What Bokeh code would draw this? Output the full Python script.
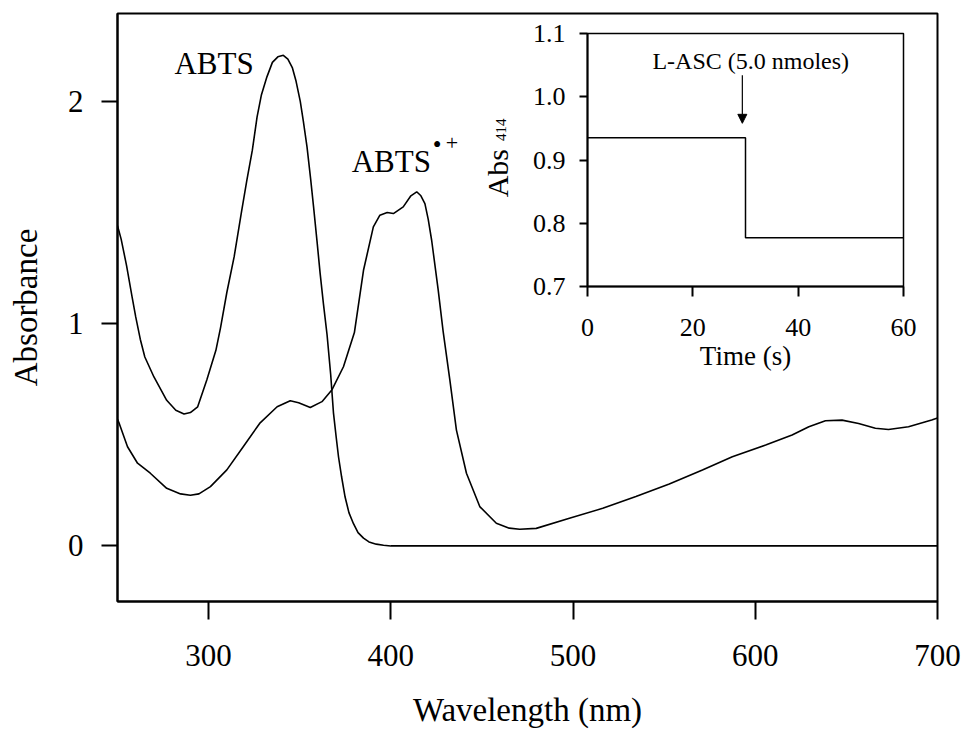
from math import pi

from bokeh.embed import file_html
from bokeh.layouts import column
from bokeh.models import (Arrow, FixedTicker, Label, NormalHead,
                          PrintfTickFormatter, Range1d)
from bokeh.plotting import figure
from bokeh.resources import INLINE

FONT = "Liberation Serif"

# ---- absorption spectra -------------------------------------------------
abts_nm = [250, 252, 255, 258, 260, 262.5, 265, 270, 277, 282, 286.5, 290,
           294, 299, 304, 306.5, 310, 314, 318, 321, 324, 326.6, 329, 332,
           335, 338, 341, 343.5, 346, 348, 350.3, 352, 354, 356, 357.6,
           359.5, 361.2, 363, 365, 367, 368.5, 370, 371.3, 373, 374.9, 377,
           379.5, 382, 385, 388, 392, 396, 400, 450, 500, 550, 600, 650, 700]
abts_abs = [1.44, 1.38, 1.26, 1.12, 1.03, 0.93, 0.85, 0.76, 0.655, 0.61,
            0.593, 0.60, 0.626, 0.746, 0.88, 0.98, 1.14, 1.30, 1.50, 1.645,
            1.78, 1.93, 2.03, 2.11, 2.175, 2.20, 2.207, 2.19, 2.15, 2.09,
            2.00, 1.91, 1.795, 1.65, 1.525, 1.37, 1.226, 1.09, 0.95, 0.77,
            0.60, 0.49, 0.40, 0.31, 0.22, 0.15, 0.10, 0.06, 0.035, 0.018,
            0.008, 0.003, 0.0, 0.0, 0.0, 0.0, 0.0, 0.0, 0.0]

radical_nm = [250, 251, 255.5, 261, 268, 277, 284.6, 290, 294.7, 301, 310,
              319, 328, 337.6, 344.8, 349.4, 355.8, 362.2, 367.6, 374, 380,
              385, 390.4, 394, 398, 401.4, 406.8, 411, 414.2, 416.5, 418.7,
              420.5, 422.4, 426, 428.7, 432.4, 436, 441.5, 448.8, 457.9, 465,
              470.7, 479.8, 498, 516.3, 534.5, 552.8, 571, 587.4, 605.7,
              620.2, 629.4, 638.5, 647.6, 656.7, 665.9, 673.1, 684.1, 696.8,
              700]
radical_abs = [0.57, 0.55, 0.446, 0.372, 0.327, 0.259, 0.234, 0.228, 0.234,
               0.267, 0.342, 0.446, 0.551, 0.626, 0.653, 0.644, 0.623, 0.649,
               0.701, 0.806, 0.96, 1.24, 1.435, 1.488, 1.50, 1.495, 1.525,
               1.575, 1.593, 1.575, 1.540, 1.47, 1.375, 1.151, 0.965, 0.746,
               0.521, 0.327, 0.177, 0.102, 0.08, 0.075, 0.079, 0.124, 0.169,
               0.222, 0.279, 0.342, 0.401, 0.454, 0.499, 0.536, 0.563, 0.566,
               0.551, 0.529, 0.524, 0.536, 0.566, 0.575]

wavelength_ticks = [300, 400, 500, 600, 700]
absorbance_ticks = [0, 1, 2]

# ---- inset: absorbance at 414 nm vs time --------------------------------
time_s = [0, 30, 60]
abs414 = [0.935, 0.777, 0.777]
time_ticks = [0, 20, 40, 60]
abs414_ticks = [0.7, 0.8, 0.9, 1.0, 1.1]
asc_time = 29.4


def style_axis(axis, tick_out, label_size, standoff):
    axis.major_tick_in = 0
    axis.major_tick_out = tick_out
    axis.minor_tick_in = 0
    axis.minor_tick_out = 0
    axis.major_tick_line_color = "black"
    axis.major_tick_line_width = 2
    axis.axis_line_color = "black"
    axis.axis_line_width = 2
    axis.major_label_text_font = FONT
    axis.major_label_text_font_size = label_size
    axis.major_label_text_color = "black"
    axis.major_label_standoff = standoff


def text_label(fig, x, y, text, size, align="center", angle=0.0):
    fig.add_layout(Label(x=x, y=y, text=text, angle=angle, text_align=align,
                         text_baseline="middle", text_font=FONT,
                         text_font_size=size, text_color="black"))


# ---- main spectrum plot -------------------------------------------------
p = figure(width=965, height=731, x_range=Range1d(250, 700),
           y_range=Range1d(-0.25, 2.395), output_backend="svg",
           toolbar_location=None, min_border_left=117, min_border_right=28,
           min_border_top=13, min_border_bottom=130)
p.grid.visible = False
p.outline_line_color = "black"
p.outline_line_width = 2

p.line(abts_nm, abts_abs, line_color="black", line_width=1.6)
p.line(radical_nm, radical_abs, line_color="black", line_width=1.6)

p.xaxis.ticker = FixedTicker(ticks=wavelength_ticks)
p.yaxis.ticker = FixedTicker(ticks=absorbance_ticks)
style_axis(p.xaxis[0], 18, "31px", 25)
style_axis(p.yaxis[0], 16, "31px", 18)
p.xaxis.axis_label = "Wavelength (nm)"
p.yaxis.axis_label = "Absorbance"
for ax in (p.xaxis[0], p.yaxis[0]):
    ax.axis_label_text_font = FONT
    ax.axis_label_text_font_size = "33px"
    ax.axis_label_text_font_style = "normal"
    ax.axis_label_text_color = "black"
p.xaxis.axis_label_standoff = 23
p.yaxis.axis_label_standoff = 21

text_label(p, 303.0, 2.171, "ABTS", "31px")
text_label(p, 378.5, 1.728, "ABTS", "31px", align="left")
text_label(p, 425.4, 1.806, "•", "25px")
text_label(p, 433.6, 1.811, "+", "22px")

# inset y-axis title (Abs with subscript 414), drawn on the canvas below
text_label(p, 458.3, 1.568, "Abs", "30px", align="left", angle=pi / 2)
text_label(p, 460.6, 1.822, "414", "15px", align="left", angle=pi / 2)

# ---- inset kinetics plot ------------------------------------------------
inset = figure(width=461, height=362, x_range=Range1d(0, 60),
               y_range=Range1d(0.7, 1.1), output_backend="svg",
               toolbar_location=None, min_border_left=117,
               min_border_right=28, min_border_top=19, min_border_bottom=90)
inset.grid.visible = False
inset.background_fill_color = None
inset.border_fill_color = None
inset.outline_line_color = "black"
inset.outline_line_width = 1.5

inset.step(time_s, abs414, mode="after", line_color="black", line_width=1.5)

inset.xaxis.ticker = FixedTicker(ticks=time_ticks)
inset.yaxis.ticker = FixedTicker(ticks=abs414_ticks)
inset.yaxis.formatter = PrintfTickFormatter(format="%.1f")
style_axis(inset.xaxis[0], 10, "26px", 22)
style_axis(inset.yaxis[0], 8, "26px", 14)
inset.xaxis.axis_label = "Time (s)"
inset.xaxis.axis_label_text_font = FONT
inset.xaxis.axis_label_text_font_size = "27px"
inset.xaxis.axis_label_text_font_style = "normal"
inset.xaxis.axis_label_text_color = "black"
inset.xaxis.axis_label_standoff = 2

text_label(inset, 31.0, 1.056, "L-ASC (5.0 nmoles)", "24px")
inset.add_layout(Arrow(end=NormalHead(size=9, fill_color="black",
                                      line_color="black"),
                       x_start=asc_time, y_start=1.034, x_end=asc_time,
                       y_end=0.958, line_color="black", line_width=1.2))

inset.styles = {"position": "absolute", "left": "470px", "top": "14px"}

root = column(p, inset)
open("out.html", "w").write(file_html(root, INLINE))
